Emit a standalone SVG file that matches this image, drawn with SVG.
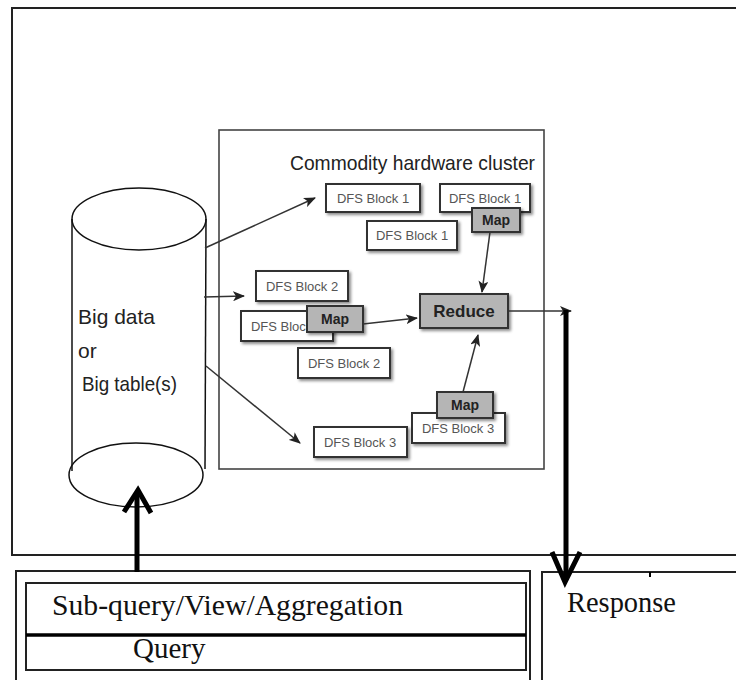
<svg xmlns="http://www.w3.org/2000/svg" width="736" height="680" viewBox="0 0 736 680">
  <defs>
    <filter id="shadow" x="-20%" y="-30%" width="150%" height="170%">
      <feDropShadow dx="2" dy="2" stdDeviation="1.6" flood-color="#000" flood-opacity="0.45"/>
    </filter>
    <marker id="head" viewBox="0 0 12 10" refX="11" refY="5" markerWidth="12" markerHeight="10" markerUnits="userSpaceOnUse" orient="auto">
      <path d="M0,0 L12,5 L0,10 L3,5 z" fill="#222"/>
    </marker>
    <style>
      .frame { fill: none; stroke: #222; stroke-width: 2; }
      .thin { fill: none; stroke: #111; stroke-width: 1.5; }
      .block rect { fill: #fff; stroke: #333; stroke-width: 2; filter: url(#shadow); }
      .block text { font-family: "Liberation Sans", Arial, sans-serif; font-size: 13px; fill: #555; text-anchor: middle; }
      .op rect { fill: #b5b5b5; stroke: #333; stroke-width: 2; filter: url(#shadow); }
      .op text { font-family: "Liberation Sans", Arial, sans-serif; font-weight: bold; fill: #222; text-anchor: middle; }
      .link { fill: none; stroke: #333; stroke-width: 1.5; marker-end: url(#head); }
      .bold { fill: none; stroke: #000; stroke-width: 5; }
      .serif { font-family: "Liberation Serif", "Times New Roman", serif; font-size: 29px; fill: #111; }
      .label { font-family: "Liberation Sans", Arial, sans-serif; fill: #222; }
    </style>
  </defs>

  <rect width="736" height="680" fill="#fff"/>

  <!-- upper system frame -->
  <g id="system">
    <path d="M760,8 L12,8 L12,555 L760,555" class="frame"/>
  </g>

  <!-- cluster frame -->
  <g id="cluster">
    <rect x="219" y="130" width="325" height="339" fill="none" stroke="#444" stroke-width="1.6"/>
    <text class="label" x="290" y="170" font-size="21" textLength="245" lengthAdjust="spacingAndGlyphs">Commodity hardware cluster</text>
  </g>

  <!-- data store cylinder -->
  <g id="store">
    <line x1="72" y1="219" x2="72" y2="471" class="thin"/>
    <line x1="206" y1="219" x2="205" y2="469" class="thin"/>
    <ellipse cx="139" cy="219" rx="67" ry="31" fill="#fff" class="thin"/>
    <ellipse cx="136" cy="475" rx="67" ry="32" fill="#fff" class="thin"/>
    <text class="label" x="78" y="324" font-size="21" textLength="77" lengthAdjust="spacingAndGlyphs">Big data</text>
    <text class="label" x="78" y="358" font-size="21">or</text>
    <text class="label" x="82" y="391" font-size="21" textLength="95" lengthAdjust="spacingAndGlyphs">Big table(s)</text>
  </g>

  <!-- data blocks -->
  <g id="block1a" class="block"><rect x="326" y="184" width="94" height="28"/><text x="373" y="203">DFS Block 1</text></g>
  <g id="block1b" class="block"><rect x="440" y="184" width="90" height="28"/><text x="485" y="203">DFS Block 1</text></g>
  <g id="block1c" class="block"><rect x="367" y="221" width="90" height="29"/><text x="412" y="240">DFS Block 1</text></g>
  <g id="map1" class="op"><rect x="472" y="208" width="48" height="24"/><text x="496" y="225" font-size="14">Map</text></g>

  <g id="block2a" class="block"><rect x="256" y="271" width="92" height="30"/><text x="302" y="291">DFS Block 2</text></g>
  <g id="block2b" class="block"><rect x="241" y="311" width="92" height="30"/><text x="287" y="331">DFS Block 2</text></g>
  <g id="map2" class="op"><rect x="307" y="306" width="56" height="26"/><text x="335" y="324" font-size="14">Map</text></g>
  <g id="block2c" class="block"><rect x="298" y="348" width="92" height="30"/><text x="344" y="368">DFS Block 2</text></g>

  <g id="reduce" class="op"><rect x="420" y="294" width="88" height="34"/><text x="464" y="317" font-size="17">Reduce</text></g>

  <g id="block3b" class="block"><rect x="412" y="413" width="93" height="30"/><text x="458" y="433">DFS Block 3</text></g>
  <g id="map3" class="op"><rect x="437" y="392" width="56" height="26"/><text x="465" y="410" font-size="14">Map</text></g>
  <g id="block3a" class="block"><rect x="314" y="427" width="93" height="30"/><text x="360" y="447">DFS Block 3</text></g>

  <!-- query stack -->
  <g id="query">
    <rect x="16" y="571" width="514" height="130" class="frame" stroke-width="1.6"/>
    <rect x="26" y="583" width="500" height="87" class="frame" stroke-width="1.6"/>
    <line x1="26" y1="635" x2="526" y2="635" stroke="#000" stroke-width="3.5"/>
    <text class="serif" x="52" y="615" textLength="351" lengthAdjust="spacingAndGlyphs">Sub-query/View/Aggregation</text>
    <text class="serif" x="133" y="658">Query</text>
  </g>

  <!-- response -->
  <g id="response">
    <path d="M542,700 L542,572 L760,572" class="frame" stroke-width="1.6"/>
    <line x1="650" y1="572" x2="650" y2="577" stroke="#000" stroke-width="2"/>
    <text class="serif" x="567" y="612" textLength="109" lengthAdjust="spacingAndGlyphs">Response</text>
  </g>

  <!-- connectors -->
  <g id="connectors">
    <line x1="205" y1="248" x2="315" y2="198" class="link"/>
    <line x1="204" y1="297" x2="244" y2="296" class="link"/>
    <line x1="206" y1="366" x2="300" y2="443" class="link"/>
    <line x1="490" y1="232" x2="482" y2="292" class="link"/>
    <line x1="363" y1="324" x2="417" y2="318" class="link"/>
    <line x1="463" y1="392" x2="478" y2="335" class="link"/>
    <line x1="508" y1="311" x2="571" y2="311" class="link"/>
    <!-- query up into the store -->
    <line x1="137" y1="572" x2="137" y2="492" class="bold"/>
    <polyline points="124,512 138,490 151,513" class="bold" stroke-width="4.5"/>
    <!-- result down to the response -->
    <line x1="566" y1="310" x2="566" y2="580" class="bold"/>
    <polyline points="552,552 565,582 580,552" class="bold" stroke-width="4.5"/>
  </g>
</svg>
